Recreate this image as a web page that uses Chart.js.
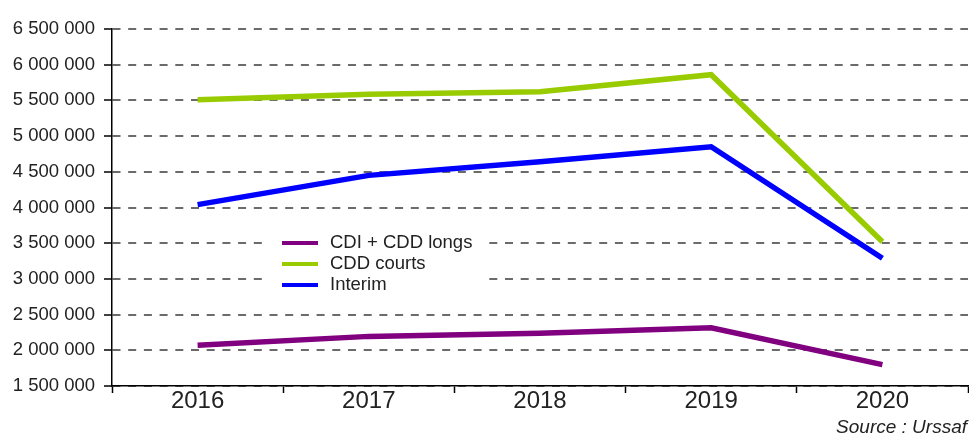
<!DOCTYPE html>
<html lang="fr">
<head>
  <meta charset="UTF-8" />
  <title>Embauches par type de contrat</title>
  <script src="https://cdn.jsdelivr.net/npm/chart.js"></script>
  <style>
    body {
      margin: 0;
      background: #fff;
    }
    #chart-container {
      width: 969px;
      height: 436px;
    }
  </style>
</head>
<body>
  <div id="chart-container">
    <canvas id="lineChart"></canvas>
  </div>

  <script>
    const annees = ['2016', '2017', '2018', '2019', '2020'];
    const cdiCddLongs = [2070000, 2195000, 2240000, 2315000, 1800000];
    const cddCourts = [5510000, 5585000, 5620000, 5860000, 3520000];
    const interim = [4040000, 4450000, 4640000, 4850000, 3290000];

    const police = 'Arial, "Liberation Sans", sans-serif';

    function formatNombre(v) {
      return v.toString().replace(/\B(?=(\d{3})+(?!\d))/g, ' ');
    }

    // légende dans la zone du graphique, sur fond blanc
    const legendeInterne = {
      id: 'legendeInterne',
      beforeDatasetsDraw(chart) {
        const ctx = chart.ctx;
        ctx.save();
        ctx.fillStyle = '#fff';
        ctx.fillRect(265, 230, 223, 63);
        chart.data.datasets.forEach((ds, i) => {
          const y = 243 + i * 21;
          ctx.strokeStyle = ds.borderColor;
          ctx.lineWidth = 4;
          ctx.beginPath();
          ctx.moveTo(282, y);
          ctx.lineTo(318, y);
          ctx.stroke();
          ctx.fillStyle = '#222';
          ctx.font = '18.5px ' + police;
          ctx.textBaseline = 'middle';
          ctx.fillText(ds.label, 330, y);
        });
        ctx.restore();
      }
    };

    const source = {
      id: 'source',
      afterDraw(chart) {
        const ctx = chart.ctx;
        ctx.save();
        ctx.fillStyle = '#222';
        ctx.font = 'italic 19px ' + police;
        ctx.textAlign = 'right';
        ctx.textBaseline = 'middle';
        ctx.fillText('Source : Urssaf', 967, 428);
        ctx.restore();
      }
    };

    const ctx = document.getElementById('lineChart').getContext('2d');

    const chart = new Chart(ctx, {
      type: 'line',
      data: {
        labels: annees,
        datasets: [
          { label: 'CDI + CDD longs', data: cdiCddLongs, borderColor: '#800080' },
          { label: 'CDD courts', data: cddCourts, borderColor: '#99CC00' },
          { label: 'Interim', data: interim, borderColor: '#0000FF' }
        ]
      },
      options: {
        responsive: true,
        maintainAspectRatio: false,
        animation: false,
        layout: {
          padding: { top: 29, right: 1, bottom: 0, left: 0 }
        },
        elements: {
          line: { borderWidth: 5.5, tension: 0, borderCapStyle: 'butt', borderJoinStyle: 'miter', fill: false },
          point: { radius: 0, hoverRadius: 0 }
        },
        plugins: {
          legend: { display: false },
          tooltip: { enabled: false }
        },
        scales: {
          x: {
            offset: true,
            afterFit(scale) { scale.height = 50; },
            grid: {
              offset: true,
              drawOnChartArea: false,
              drawTicks: true,
              tickLength: 7,
              tickColor: '#000',
              tickWidth: 1.5
            },
            border: { display: true, color: '#000', width: 1.5 },
            ticks: {
              color: '#222',
              padding: -6,
              font: { family: police, size: 24 }
            }
          },
          y: {
            min: 1500000,
            max: 6500000,
            afterFit(scale) { scale.width = 112; },
            ticks: {
              stepSize: 500000,
              color: '#222',
              padding: 9,
              font: { family: police, size: 18.5 },
              callback: v => formatNombre(v)
            },
            grid: {
              color: '#6b6b6b',
              lineWidth: 2,
              drawTicks: true,
              tickLength: 8,
              tickColor: '#000',
              tickWidth: 1.5
            },
            border: { display: true, color: '#000', width: 1.5, dash: [8, 7.7] }
          }
        }
      },
      plugins: [legendeInterne, source]
    });
  </script>
</body>
</html>
